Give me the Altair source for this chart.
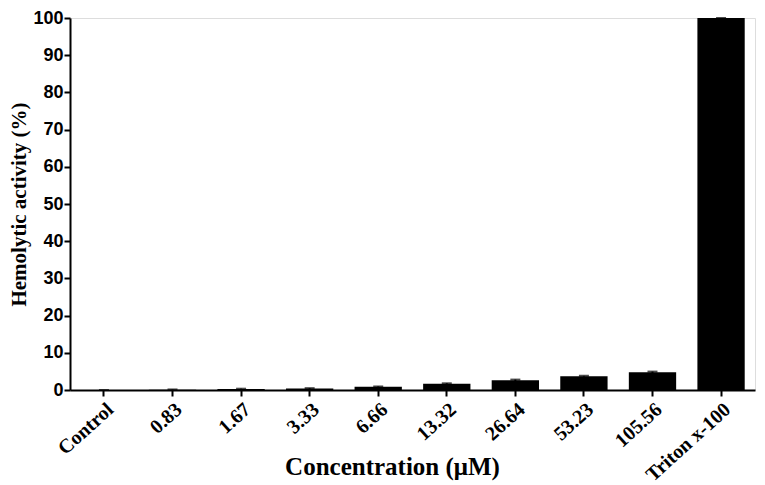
import altair as alt
import pandas as pd

categories = ["Control", "0.83", "1.67", "3.33", "6.66", "13.32", "26.64", "53.23", "105.56", "Triton x-100"]
values = [0.0, 0.1, 0.25, 0.4, 0.85, 1.7, 2.6, 3.7, 4.75, 100.0]
errors = [0.0, 0.05, 0.1, 0.1, 0.1, 0.1, 0.2, 0.1, 0.2, 0.0]

df = pd.DataFrame({"cat": categories, "val": values, "err": errors})
df["lo"] = df["val"] - df["err"]
df["hi"] = df["val"] + df["err"]

xaxis = alt.Axis(title="Concentration (μM)", labelAngle=-42,
                 labelFont="Liberation Serif", labelFontWeight="bold", labelFontSize=20,
                 titleFont="Liberation Serif", titleFontWeight="bold", titleFontSize=25,
                 labelColor="black", titleColor="black", domainColor="black", tickColor="black",
                 domainWidth=2, tickWidth=2, tickSize=6, labelPadding=3,
                 titleY=76, titleBaseline="middle", titleX=322)
xscale = alt.Scale(paddingInner=0.31, paddingOuter=0.15)

yaxis = alt.Axis(title="Hemolytic activity (%)", values=list(range(0, 101, 10)),
                 labelFont="Liberation Sans", labelFontWeight="bold", labelFontSize=18,
                 titleFont="Liberation Serif", titleFontWeight="bold", titleFontSize=21,
                 labelColor="black", titleColor="black", domainColor="black", tickColor="black",
                 domainWidth=2, tickWidth=2, tickSize=6, grid=False, labelPadding=1, titlePadding=3)
yscale = alt.Scale(domain=[0, 100], nice=False)

def X():
    return alt.X("cat:N", sort=categories, scale=xscale, axis=xaxis)

bars = alt.Chart(df).mark_bar(color="black").encode(
    x=X(),
    y=alt.Y("val:Q", scale=yscale, axis=yaxis),
)

err_rule = alt.Chart(df).mark_rule(color="black", strokeWidth=2).encode(
    x=X(),
    y=alt.Y("lo:Q", scale=yscale, axis=yaxis), y2="hi:Q")

caps = alt.Chart(df).mark_tick(color="black", thickness=2, size=10).encode(
    x=X(),
    y=alt.Y("hi:Q", scale=yscale, axis=yaxis))

chart = alt.layer(bars, err_rule, caps).properties(
    width=685, height=372,
    autosize=alt.AutoSizeParams(type="none"),
    padding={"left": 62, "top": 10, "right": 2, "bottom": 95},
).configure_view(stroke=None).configure(background="white")

chart.save("out.html", embed_options={"renderer": "svg", "actions": False})
